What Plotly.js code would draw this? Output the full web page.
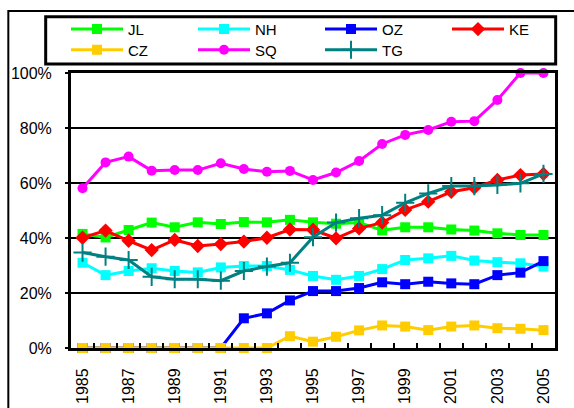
<!DOCTYPE html>
<html>
<head>
<meta charset="utf-8">
<script src="https://cdn.plot.ly/plotly-3.0.1.min.js"></script>
<style>html,body{margin:0;padding:0;background:#fff;}#chart{width:574px;height:408px;}</style>
</head>
<body>
<div id="chart"></div>
<script>
var years = [1985,1986,1987,1988,1989,1990,1991,1992,1993,1994,1995,1996,1997,1998,1999,2000,2001,2002,2003,2004,2005];
var JL = [41.5,40.2,42.9,45.6,43.9,45.7,45.1,45.8,45.7,46.6,45.7,45.2,45.6,42.8,43.9,43.9,43.1,42.7,41.7,41.1,41.1];
var NH = [31.0,26.5,28.0,29.0,28.0,27.5,29.3,29.8,29.8,28.4,26.2,24.8,26.2,28.7,32.0,32.6,33.5,31.8,31.2,30.8,29.6];
var OZ = [0,0,0,0,0,0,0,10.8,12.6,17.3,20.7,20.7,21.8,23.9,23.2,24.1,23.5,23.2,26.5,27.4,31.6];
var KE = [40.1,42.7,39.0,35.6,39.3,37.1,37.8,38.7,40.1,43.1,43.0,39.9,43.5,45.6,50.2,53.2,56.8,58.3,61.1,62.9,63.3];
var CZ = [0,0,0,0,0,0,0,0,0,4.3,2.3,4.1,6.4,8.2,7.8,6.5,7.8,8.2,7.2,7.0,6.5];
var SQ = [58.1,67.5,69.6,64.5,64.7,64.7,67.2,65.1,64.1,64.4,61.1,63.8,68.0,74.2,77.5,79.3,82.3,82.5,90.2,100,100];
var TG = [34.7,33.2,32.0,25.9,25.0,25.0,24.5,28.0,29.6,31.0,40.3,45.6,47.2,48.3,52.8,56.2,58.9,58.9,59.3,59.9,63.3];
var xTickLabels = [1985,1987,1989,1991,1993,1995,1997,1999,2001,2003,2005];
var xBoundaries = [1985.5,1986.5,1987.5,1988.5,1989.5,1990.5,1991.5,1992.5,1993.5,1994.5,1995.5,1996.5,1997.5,1998.5,1999.5,2000.5,2001.5,2002.5,2003.5,2004.5];
var yTicks = [0,20,40,60,80,100];

function tr(name, y, color, symbol, size, leg, extra) {
  var m = {color: color, symbol: symbol, size: size};
  if (extra) { for (var k in extra) m[k] = extra[k]; }
  return {x: years, y: y, name: name, type: 'scatter', mode: 'lines+markers', cliponaxis: false,
          legend: leg, line: {color: color, width: 3}, marker: m};
}
var data = [
  tr('JL', JL, '#00FF00', 'square', 10, 'legend'),
  tr('NH', NH, '#00FFFF', 'square', 10, 'legend'),
  tr('OZ', OZ, '#0000FF', 'square', 10, 'legend'),
  tr('KE', KE, '#FF0000', 'diamond', 11, 'legend'),
  tr('CZ', CZ, '#FFCC00', 'square', 10, 'legend2'),
  tr('SQ', SQ, '#FF00FF', 'circle', 10, 'legend2'),
  tr('TG', TG, '#008080', 'cross-thin', 13, 'legend2', {line: {color: '#008080', width: 2}}),
  {x: [1985], y: [null], xaxis: 'x2', showlegend: false, hoverinfo: 'skip', type: 'scatter'}
];
var fontFam = 'Liberation Sans, Arial, sans-serif';
function legendCfg(yc) {
  return {
    orientation: 'h', x: -0.0103, y: yc, xanchor: 'left', yanchor: 'middle',
    borderwidth: 0, bgcolor: 'rgba(0,0,0,0)',
    font: {size: 15, family: fontFam, color: '#000'},
    itemwidth: 52, entrywidth: 60, entrywidthmode: 'pixels', traceorder: 'normal'
  };
}
var layout = {
  width: 574, height: 408,
  margin: {l: 71, r: 19, t: 73, b: 60, pad: 0},
  paper_bgcolor: '#fff', plot_bgcolor: '#fff',
  showlegend: true,
  font: {family: fontFam, color: '#000'},
  xaxis: {
    range: [1984.5, 2005.5], tickmode: 'array', tickvals: xTickLabels, ticktext: xTickLabels.map(String),
    tickangle: -90, ticks: '', showgrid: false, zeroline: false,
    showline: true, linecolor: '#000', linewidth: 3, mirror: true,
    tickfont: {size: 16, family: fontFam, color: '#000'}, ticklabelstandoff: 11
  },
  xaxis2: {
    overlaying: 'x', matches: 'x', range: [1984.5, 2005.5], tickmode: 'array', tickvals: xBoundaries,
    ticks: 'inside', ticklen: 5, tickwidth: 2, tickcolor: '#000', showticklabels: false,
    showgrid: false, zeroline: false, showline: false, side: 'bottom'
  },
  yaxis: {
    range: [0, 100], tickmode: 'array', tickvals: yTicks, ticktext: yTicks.map(function(v){return v + '%';}),
    ticks: 'outside', ticklen: 3, tickwidth: 2, tickcolor: '#000',
    showgrid: true, gridcolor: '#000', gridwidth: 2, zeroline: false,
    showline: true, linecolor: '#000', linewidth: 3, mirror: true,
    tickfont: {size: 16, family: fontFam, color: '#000'}, ticklabelstandoff: 10
  },
  legend: legendCfg(1.1589),
  legend2: legendCfg(1.0836),
  shapes: [
    {type: 'rect', xref: 'paper', yref: 'paper', x0: -0.1295, x1: 1.2, y0: -0.4, y1: 1.2255,
     line: {color: '#000', width: 2}, layer: 'below'},
    {type: 'rect', xref: 'paper', yref: 'paper', x0: -0.0523, x1: 1.0014, y0: 1.0327, y1: 1.2047,
     line: {color: '#000', width: 3}, fillcolor: '#fff', layer: 'below'}
  ]
};
Plotly.newPlot('chart', data, layout, {staticPlot: true, displayModeBar: false});
</script>
</body>
</html>
